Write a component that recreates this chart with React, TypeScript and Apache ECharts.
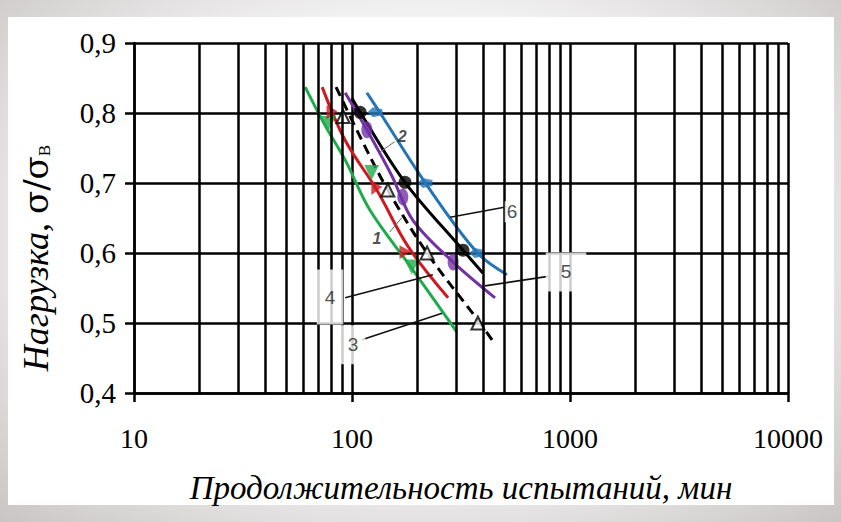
import React, { useEffect, useRef } from 'react';
import * as echarts from 'echarts';

// Tick labels / grid values
const xMajorTicks = [10, 100, 1000, 10000];
const xMinorGrid = [20, 30, 40, 50, 60, 70, 80, 90, 200, 300, 400, 500, 600, 700, 800, 900, 2000, 3000, 4000, 5000, 6000, 7000, 8000, 9000];
const yTicks = [0.4, 0.5, 0.6, 0.7, 0.8, 0.9];

// Curves [duration (min), load σ/σв]
const curve1Dashed = [[84.5, 0.837], [111, 0.761], [146, 0.69], [221, 0.6], [378, 0.504], [439, 0.476]];
const curve1Points = [[91, 0.795], [146, 0.69], [221, 0.6], [378, 0.5]];

const curve2Black = [[100, 0.821], [109, 0.801], [175, 0.701], [323, 0.604], [399, 0.571]];
const curve2Points = [[109, 0.801], [175, 0.701], [323, 0.604]];

const curve3Green = [[61, 0.837], [75, 0.783], [93, 0.733], [121, 0.661], [186, 0.58], [303, 0.487]];
const curve3Points = [[78, 0.785], [123, 0.715], [188, 0.58]];

const curve4Red = [[73, 0.837], [93, 0.761], [130, 0.69], [181, 0.609], [276, 0.536]];
const curve4Points = [[81, 0.801], [130, 0.693], [175, 0.601]];

const curve5Purple = [[93, 0.829], [117, 0.776], [153, 0.709], [190, 0.647], [291, 0.587], [453, 0.536]];
const curve5Points = [[117, 0.776], [171, 0.68], [291, 0.587]];

const curve6Blue = [[117, 0.829], [134, 0.801], [216, 0.701], [374, 0.601], [514, 0.569]];
const curve6Points = [[127.5, 0.801], [216, 0.70], [374, 0.60]];

// Curve labels and leader lines
const labelNames = ['1', '2', '3', '4', '5', '6'];
const labelPositions = [[130, 0.621], [170, 0.766], [101, 0.469], [79.3, 0.537], [959, 0.573], [542, 0.659]];
const leaderLines = [
  [[149, 0.63], [170, 0.651]],
  [[157, 0.759], [134, 0.744]],
  [[111, 0.476], [259, 0.514]],
  [[93, 0.536], [235, 0.569]],
  [[407, 0.553], [809, 0.567]],
  [[282, 0.651], [514, 0.666]],
];

const GREEN = '#1faa4c';
const RED = '#d0191e';
const PURPLE = '#7232a6';
const BLUE = '#2474b6';
const BLACK = '#000000';

export default function App() {
  const ref = useRef<HTMLDivElement>(null);

  useEffect(() => {
    const chart = echarts.init(ref.current as HTMLDivElement, null, { renderer: 'svg' });

    const curveSeries = (data: number[][], color: string, dashed = false) => ({
      type: 'line',
      data,
      smooth: 0.35,
      showSymbol: false,
      symbol: 'none',
      z: 3,
      silent: true,
      lineStyle: { color, width: 3, type: dashed ? [10, 6] : 'solid' },
    });

    const markerSeries = (data: number[][], symbol: string, size: any, color: string, extra: any = {}) => ({
      type: 'scatter',
      data,
      symbol,
      symbolSize: size,
      z: 4,
      silent: true,
      itemStyle: { color, ...(extra.itemStyle || {}) },
      symbolRotate: extra.rotate || 0,
    });

    const leaderSeries = leaderLines.map((pts, i) => ({
      type: 'line',
      data: pts,
      showSymbol: false,
      symbol: 'none',
      z: 5,
      silent: true,
      lineStyle: { color: i < 2 ? '#666' : '#111', width: i < 2 ? 1 : 1.6 },
    }));

    const labelData = labelNames.map((n, i) => {
      const italic = i < 2;
      const pad = i === 3 ? [18, 8] : i === 2 ? [10, 7] : i === 4 ? [10, 15] : i === 5 ? [1, 2] : [0, 0];
      return {
        value: labelPositions[i],
        name: n,
        label: {
          show: true,
          position: 'inside',
          formatter: n,
          fontFamily: 'Liberation Sans',
          fontStyle: italic ? 'italic' : 'normal',
          fontWeight: italic ? 'bold' : 'normal',
          fontSize: italic ? 16 : 19,
          color: '#222',
          backgroundColor: italic ? 'transparent' : '#ffffff',
          padding: pad,
        },
      };
    });

    const option = {
      animation: false,
      backgroundColor: 'transparent',
      grid: { left: 134, right: 53, top: 43, bottom: 129, containLabel: false },
      graphic: [
        { type: 'rect', z: -100, shape: { x: 8, y: 17, width: 826, height: 488 }, style: { fill: '#ffffff' }, silent: true },
        {
          type: 'text',
          x: 36,
          y: 258,
          rotation: Math.PI / 2,
          style: {
            text: '{a|Нагрузка, }{b|σ/σ}{c|В}',
            align: 'center',
            verticalAlign: 'middle',
            rich: {
              a: { fontFamily: 'Liberation Serif', fontStyle: 'italic', fontSize: 36, fill: '#000', color: '#000' },
              b: { fontFamily: 'DejaVu Serif', fontSize: 34, fill: '#000', color: '#000' },
              c: { fontFamily: 'Liberation Serif', fontSize: 17, fill: '#000', color: '#000', padding: [16, 0, 0, 0] },
            },
          },
        },
      ],
      xAxis: {
        type: 'log',
        logBase: 10,
        min: xMajorTicks[0],
        max: xMajorTicks[xMajorTicks.length - 1],
        axisLine: { show: true, lineStyle: { color: '#000', width: 2.5 } },
        axisTick: { show: true, length: 9, lineStyle: { color: '#000', width: 2.5 } },
        axisLabel: {
          fontFamily: 'Liberation Serif',
          fontSize: 28,
          color: '#000',
          margin: 31,
          formatter: (v: number) => String(Math.round(v)),
        },
        splitLine: { show: true, lineStyle: { color: '#000', width: 2.5 } },
        name: 'Продолжительность испытаний, мин',
        nameLocation: 'middle',
        nameGap: 78,
        nameTextStyle: { fontFamily: 'Liberation Serif', fontStyle: 'italic', fontSize: 33, color: '#000' },
      },
      yAxis: {
        type: 'value',
        min: yTicks[0],
        max: yTicks[yTicks.length - 1],
        interval: 0.1,
        axisLine: { show: true, lineStyle: { color: '#000', width: 2.5 } },
        axisTick: { show: true, length: 9, lineStyle: { color: '#000', width: 2.5 } },
        axisLabel: {
          fontFamily: 'Liberation Serif',
          fontSize: 29,
          color: '#000',
          margin: 18,
          formatter: (v: number) => v.toFixed(1).replace('.', ','),
        },
        splitLine: { show: true, lineStyle: { color: '#000', width: 2.5 } },
      },
      series: [
        {
          type: 'line',
          data: [[10, 0.4]],
          showSymbol: false,
          symbol: 'none',
          silent: true,
          z: 1,
          lineStyle: { opacity: 0 },
          markLine: {
            silent: true,
            symbol: ['none', 'none'],
            label: { show: false },
            animation: false,
            lineStyle: { color: '#000', width: 2.5, type: 'solid' },
            emphasis: { disabled: true },
            data: xMinorGrid.map((v) => ({ xAxis: v })),
          },
        },
        curveSeries(curve3Green, GREEN),
        curveSeries(curve4Red, RED),
        curveSeries(curve1Dashed, BLACK, true),
        curveSeries(curve5Purple, PURPLE),
        curveSeries(curve2Black, BLACK),
        curveSeries(curve6Blue, BLUE),
        markerSeries(curve3Points, 'triangle', 15, GREEN, { rotate: 180 }),
        markerSeries(curve4Points, 'path://M0,0 L10,6 L0,14 Z', [11, 14], RED),
        markerSeries(curve1Points, 'triangle', 13, '#ffffff', { itemStyle: { borderColor: '#000', borderWidth: 2 } }),
        markerSeries(curve5Points, 'circle', [11, 17], PURPLE),
        markerSeries(curve2Points, 'circle', 13, BLACK),
        markerSeries(curve6Points, 'path://M0,5 L5,0 L14,2 L14,8 L5,10 Z', [15, 10], BLUE),
        ...leaderSeries,
        {
          type: 'scatter',
          data: labelData,
          symbolSize: 1,
          z: 6,
          silent: true,
          itemStyle: { color: 'transparent' },
        },
      ],
    };

    chart.setOption(option as any);
    return () => chart.dispose();
  }, []);

  return (
    <div
      ref={ref}
      style={{
        position: 'absolute',
        left: 0,
        top: 0,
        width: 841,
        height: 522,
        background: 'radial-gradient(ellipse at 50% 45%, #f2f1f1 55%, #c9c5c5 100%)',
      }}
    />
  );
}
